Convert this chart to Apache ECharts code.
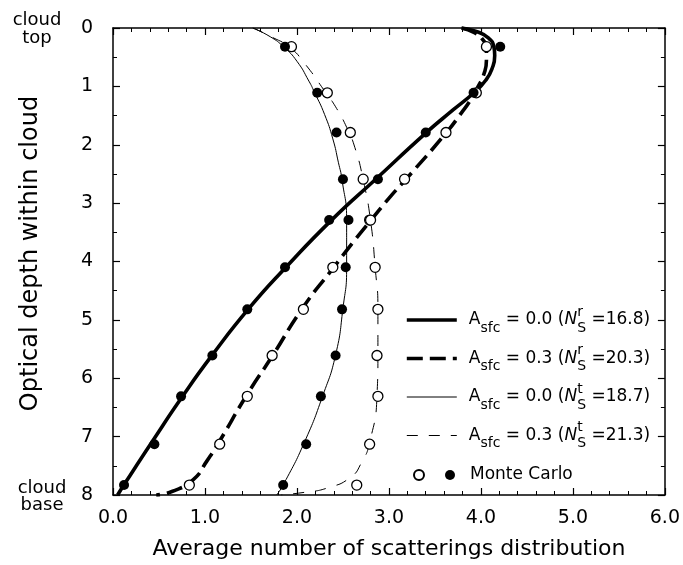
<!DOCTYPE html>
<html><head><meta charset="utf-8">
<script src="https://cdn.jsdelivr.net/npm/echarts@6/dist/echarts.min.js"></script>
<style>html,body{margin:0;padding:0;background:#fff}#c{width:683px;height:565px}</style>
</head><body><div id="c"></div>
<script>
// ---------- data ----------
const xTickLabels = ['0.0','1.0','2.0','3.0','4.0','5.0','6.0'];
const yTickLabels = ['0','1','2','3','4','5','6','7','8'];

// model curves (optical depth, average number of scatterings)
const refl0Depth = [0,0.06,0.17,0.32,0.47,0.7,0.9,1.1,1.4,1.8,2.6,3.3,4.1,4.8,5.6,6.3,7.1,7.8,8.0];
const refl0Val   = [3.79,3.95,4.08,4.14,4.15,4.12,4.05,3.93,3.70,3.40,2.85,2.37,1.88,1.48,1.08,0.76,0.42,0.13,0.05];

const refl3Depth = [0,0.08,0.2,0.35,0.55,0.8,1.0,1.25,1.45,1.8,2.6,2.88,3.3,3.63,4.1,4.8,5.6,6.3,7.1,7.42,7.74,7.94,8.0];
const refl3Val   = [3.79,3.93,4.02,4.06,4.06,4.03,3.97,3.88,3.79,3.62,3.18,3.02,2.80,2.63,2.40,2.06,1.74,1.45,1.15,1.02,0.87,0.64,0.47];

const tran0Depth = [0,0.15,0.33,0.57,0.91,1.1,1.48,1.9,2.3,2.6,3.3,4.1,4.8,5.6,6.3,7.1,7.8,8.0];
const tran0Val   = [1.52,1.71,1.86,2.0,2.13,2.19,2.30,2.39,2.45,2.49,2.54,2.54,2.50,2.42,2.28,2.08,1.86,1.78];

const tran3Depth = [0,0.15,0.33,0.6,1.1,1.35,1.7,2.05,2.6,3.3,4.1,4.8,5.6,6.3,7.1,7.45,7.7,7.88,7.95,8.0];
const tran3Val   = [1.52,1.72,1.92,2.08,2.31,2.42,2.54,2.63,2.72,2.80,2.85,2.88,2.88,2.87,2.79,2.70,2.58,2.33,2.10,1.83];

// Monte Carlo points
const mcDepth = [0.32,1.11,1.79,2.59,3.29,4.10,4.82,5.61,6.31,7.13,7.83];
const mcRefl0 = [4.21,3.92,3.40,2.88,2.35,1.87,1.46,1.08,0.74,0.45,0.12]; // filled
const mcTran0 = [1.87,2.22,2.43,2.50,2.56,2.53,2.49,2.42,2.26,2.10,1.85]; // filled
const mcRefl3 = [4.06,3.95,3.62,3.17,2.79,2.39,2.07,1.73,1.46,1.16,0.83]; // open
const mcTran3 = [1.94,2.33,2.58,2.72,2.80,2.85,2.88,2.87,2.88,2.79,2.65]; // open

// legend
const albedo = ['0.0','0.3','0.0','0.3'];
const nsKind = ['r','r','t','t'];
const nsValue = ['16.8','20.3','18.7','21.3'];
const mcLabel = 'Monte Carlo';

// ---------- chart ----------
const FF = "'DejaVu Sans', sans-serif";
const zip = (xs, ys) => xs.map((x, i) => [x, ys[i]]);
const lineNames = albedo.map((a, i) => 'Asfc = ' + a + ' (Ns' + nsKind[i] + ' =' + nsValue[i] + ')');

const lineDefs = [
  {d: refl0Depth, v: refl0Val, w: 3.6, t: 'solid'},
  {d: refl3Depth, v: refl3Val, w: 3.6, t: [16, 7]},
  {d: tran0Depth, v: tran0Val, w: 1, t: 'solid'},
  {d: tran3Depth, v: tran3Val, w: 1, t: [11, 11]}
];

const series = lineDefs.map((L, i) => ({
  name: lineNames[i], type: 'line', smooth: 0.55, symbol: 'none', showSymbol: false,
  data: zip(L.v, L.d), z: 2,
  lineStyle: {color: '#000', width: L.w, type: L.t}, itemStyle: {color: '#000'}
}));
series.push({
  name: 'MC open', type: 'scatter', symbol: 'circle', symbolSize: 10, z: 3,
  data: zip(mcRefl3, mcDepth).concat(zip(mcTran3, mcDepth)),
  itemStyle: {color: '#fff', borderColor: '#000', borderWidth: 1.3, opacity: 1}
});
series.push({
  name: mcLabel, type: 'scatter', symbol: 'circle', symbolSize: 10, z: 4,
  data: zip(mcRefl0, mcDepth).concat(zip(mcTran0, mcDepth)),
  itemStyle: {color: '#000', opacity: 1}
});

const axisLine = {show: true, onZero: false, lineStyle: {color: '#000', width: 1.5}};
const axisTick = {show: true, inside: true, length: 7, lineStyle: {color: '#000', width: 1.2}};

const chart = echarts.init(document.getElementById('c'), null, {renderer: 'canvas'});
chart.setOption({
  backgroundColor: '#fff',
  animation: false,
  grid: {left: 113, right: 18, top: 28, bottom: 67, show: false},
  xAxis: [
    {type: 'value', min: 0, max: 6, interval: 1, position: 'bottom',
     axisLine, axisTick,
     minorTick: {show: true, splitNumber: 5, length: 4, lineStyle: {color: '#000', width: 1}},
     splitLine: {show: false}, minorSplitLine: {show: false},
     axisLabel: {margin: 14, fontSize: 19, fontFamily: FF, color: '#000',
       formatter: v => xTickLabels[Math.round(v)]},
     name: 'Average number of scatterings distribution', nameLocation: 'middle', nameGap: 43,
     nameTextStyle: {fontSize: 22, fontFamily: FF, color: '#000'}},
    {type: 'value', min: 0, max: 6, interval: 1, position: 'top',
     axisLine, axisTick,
     minorTick: {show: true, splitNumber: 5, length: 4, lineStyle: {color: '#000', width: 1}},
     splitLine: {show: false}, axisLabel: {show: false}}
  ],
  yAxis: [
    {type: 'value', min: 0, max: 8, interval: 1, inverse: true, position: 'left',
     axisLine, axisTick,
     minorTick: {show: true, splitNumber: 2, length: 4, lineStyle: {color: '#000', width: 1}},
     splitLine: {show: false},
     axisLabel: {margin: 20, fontSize: 19, fontFamily: FF, color: '#000',
       formatter: v => yTickLabels[Math.round(v)]},
     name: 'Optical depth within cloud', nameLocation: 'middle', nameGap: 70,
     nameTextStyle: {fontSize: 24, fontFamily: FF, color: '#000', padding: [0, 0, 0, 16]}},
    {type: 'value', min: 0, max: 8, interval: 1, inverse: true, position: 'right',
     axisLine, axisTick,
     minorTick: {show: true, splitNumber: 2, length: 4, lineStyle: {color: '#000', width: 1}},
     splitLine: {show: false}, axisLabel: {show: false}}
  ],
  legend: [
    {data: lineNames.map((n, i) => ({name: n, lineStyle: {width: lineDefs[i].w, type: lineDefs[i].t, color: '#000'}})),
     orient: 'vertical', left: 405, top: 305, padding: 0, itemWidth: 50, itemHeight: 14,
     itemGap: 8.5, selectedMode: false,
     itemStyle: {opacity: 0},
     formatter: name => {
       const i = lineNames.indexOf(name);
       return 'A{sfc|sfc} = ' + albedo[i] + ' ({it|N}{sup|' + nsKind[i] + '}{sub|S}{n| =' + nsValue[i] + ')}';
     },
     textStyle: {fontFamily: FF, fontSize: 17, color: '#000', lineHeight: 30, padding: [0, 0, 0, 7],
       rich: {
         sfc: {fontFamily: FF, fontSize: 14, color: '#000', lineHeight: 24, verticalAlign: 'bottom'},
         it: {fontFamily: FF, fontSize: 17, fontStyle: 'italic', color: '#000', lineHeight: 30},
         sup: {fontFamily: FF, fontSize: 14, color: '#000', lineHeight: 20, verticalAlign: 'top', width: 0},
         sub: {fontFamily: FF, fontSize: 14, color: '#000', lineHeight: 14, verticalAlign: 'bottom'},
         n: {fontFamily: FF, fontSize: 17, color: '#000', lineHeight: 30}
       }}},
    {data: ['MC open', mcLabel], orient: 'horizontal', left: 413, top: 465, padding: 0,
     itemWidth: 10, itemHeight: 10, itemGap: 16, selectedMode: false,
     formatter: name => name === mcLabel ? '{g|}' + name : '',
     textStyle: {fontFamily: FF, fontSize: 17, color: '#000', lineHeight: 20,
       rich: {g: {width: 10, lineHeight: 20}}}}
  ],
  graphic: [
    {type: 'text', x: 37, y: 29, style: {text: 'cloud\ntop', font: '18px ' + FF, fill: '#000',
      textAlign: 'center', textVerticalAlign: 'middle', lineHeight: 18}},
    {type: 'text', x: 42, y: 497, style: {text: 'cloud\nbase', font: '18px ' + FF, fill: '#000',
      textAlign: 'center', textVerticalAlign: 'middle', lineHeight: 17}}
  ],
  series
});
</script></body></html>
